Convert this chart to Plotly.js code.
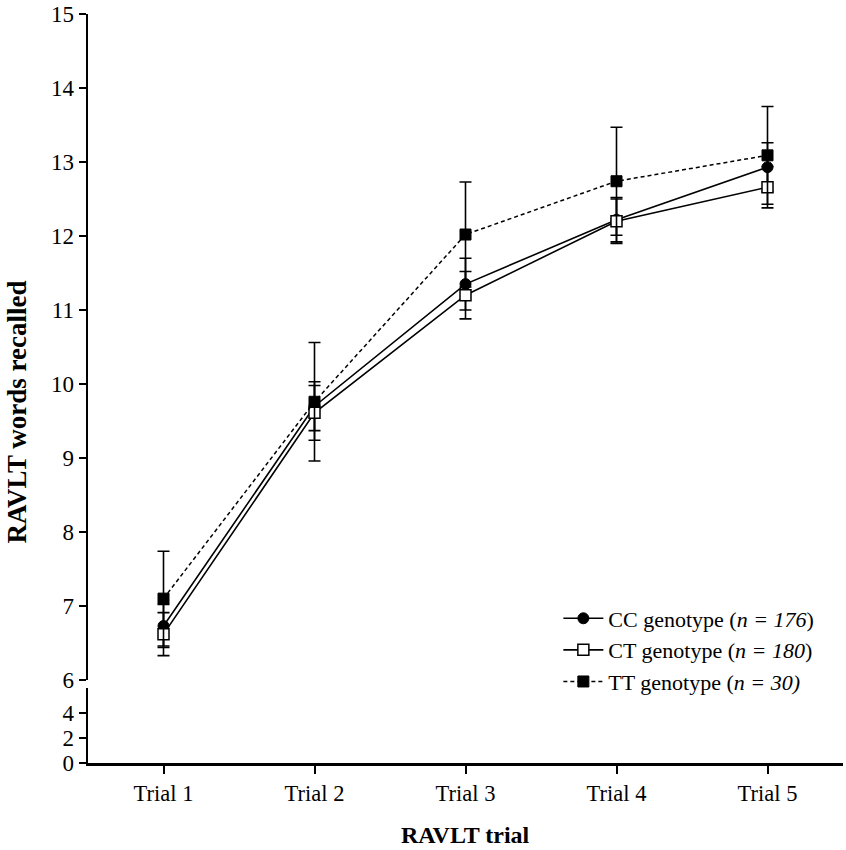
<!DOCTYPE html>
<html>
<head>
<meta charset="utf-8">
<script src="https://cdn.plot.ly/plotly-3.0.1.min.js"></script>
<style>html,body{margin:0;padding:0;background:#fff;}#chart{width:846px;height:850px;}</style>
</head>
<body>
<div id="chart"></div>
<script>
const trials = ["Trial 1", "Trial 2", "Trial 3", "Trial 4", "Trial 5"];
const ccMean = [6.73, 9.70, 11.35, 12.22, 12.93];
const ccErr  = [0.29, 0.33, 0.35, 0.30, 0.33];
const ctMean = [6.62, 9.61, 11.20, 12.20, 12.66];
const ctErr  = [0.29, 0.37, 0.32, 0.30, 0.28];
const ttMean = [7.10, 9.76, 12.02, 12.74, 13.09];
const ttErr  = [0.64, 0.80, 0.71, 0.73, 0.66];
const seriesNames = ["CC genotype (<i>n = 176</i>)", "CT genotype (<i>n = 180</i>)", "TT genotype (<i>n = 30)</i>"];
const upperTicks = [6, 7, 8, 9, 10, 11, 12, 13, 14, 15];
const lowerTicks = [0, 2, 4];

const FONT = "Liberation Serif";
function err(arr) {
  return {type: 'data', array: arr, visible: true, color: '#000', thickness: 1.6, width: 6};
}
const traces = [
  {x: trials, y: ccMean, error_y: err(ccErr), name: seriesNames[0],
   mode: 'lines+markers', line: {color: '#000', width: 1.6},
   marker: {symbol: 'circle', size: 11, color: '#000', line: {color: '#000', width: 1}}},
  {x: trials, y: ctMean, error_y: err(ctErr), name: seriesNames[1],
   mode: 'lines+markers', line: {color: '#000', width: 1.6},
   marker: {symbol: 'square', size: 11, color: '#fff', line: {color: '#000', width: 1.5}}},
  {x: trials, y: ttMean, error_y: err(ttErr), name: seriesNames[2],
   mode: 'lines+markers', line: {color: '#000', width: 1.5, dash: '4px,3px'},
   marker: {symbol: 'square', size: 11, color: '#000', line: {color: '#000', width: 1}}},
  {x: [trials[0]], y: [null], xaxis: 'x', yaxis: 'y2', showlegend: false, hoverinfo: 'skip', mode: 'markers'}
];

const axisCommon = {
  showgrid: false, zeroline: false, showline: true, linecolor: '#000', linewidth: 2.5,
  ticks: 'outside', ticklen: 7, tickwidth: 2, tickcolor: '#000',
  ticklabeloverflow: 'allow',
  tickfont: {family: FONT, size: 23, color: '#000'}
};

const layout = {
  width: 846, height: 850,
  margin: {l: 88, r: 3, t: 14, b: 87},
  paper_bgcolor: '#fff', plot_bgcolor: '#fff',
  font: {family: FONT, color: '#000'},
  showlegend: true,
  xaxis: Object.assign({}, axisCommon, {
    type: 'category', categoryorder: 'array', categoryarray: trials,
    range: [-0.5, 4.5], anchor: 'y2', ticklen: 8,
    tickfont: {family: FONT, size: 22.5, color: '#000'}
  }),
  yaxis: Object.assign({}, axisCommon, {
    domain: [0.1108, 1], range: [6, 15], tickvals: upperTicks, anchor: 'x'
  }),
  yaxis2: Object.assign({}, axisCommon, {
    domain: [0, 0.1], range: [0, 6], tickvals: lowerTicks, anchor: 'x'
  }),
  legend: {
    x: 0.623, y: 0.221, xanchor: 'left', yanchor: 'top',
    bgcolor: 'rgba(0,0,0,0)', borderwidth: 0,
    font: {family: FONT, size: 22, color: '#000'},
    tracegroupgap: 0, itemwidth: 40
  },
  annotations: [
    {text: '<b>RAVLT words recalled</b>', xref: 'paper', yref: 'paper', x: -0.094, y: 0.468,
     xanchor: 'center', yanchor: 'middle', textangle: -90, showarrow: false,
     font: {family: FONT, size: 27, color: '#000'}},
    {text: '<b>RAVLT trial</b>', xref: 'paper', yref: 'paper', x: 0.5, y: -0.096,
     xanchor: 'center', yanchor: 'middle', showarrow: false,
     font: {family: FONT, size: 24, color: '#000'}}
  ]
};

Plotly.newPlot('chart', traces, layout, {displayModeBar: false, staticPlot: true});
</script>
</body>
</html>
